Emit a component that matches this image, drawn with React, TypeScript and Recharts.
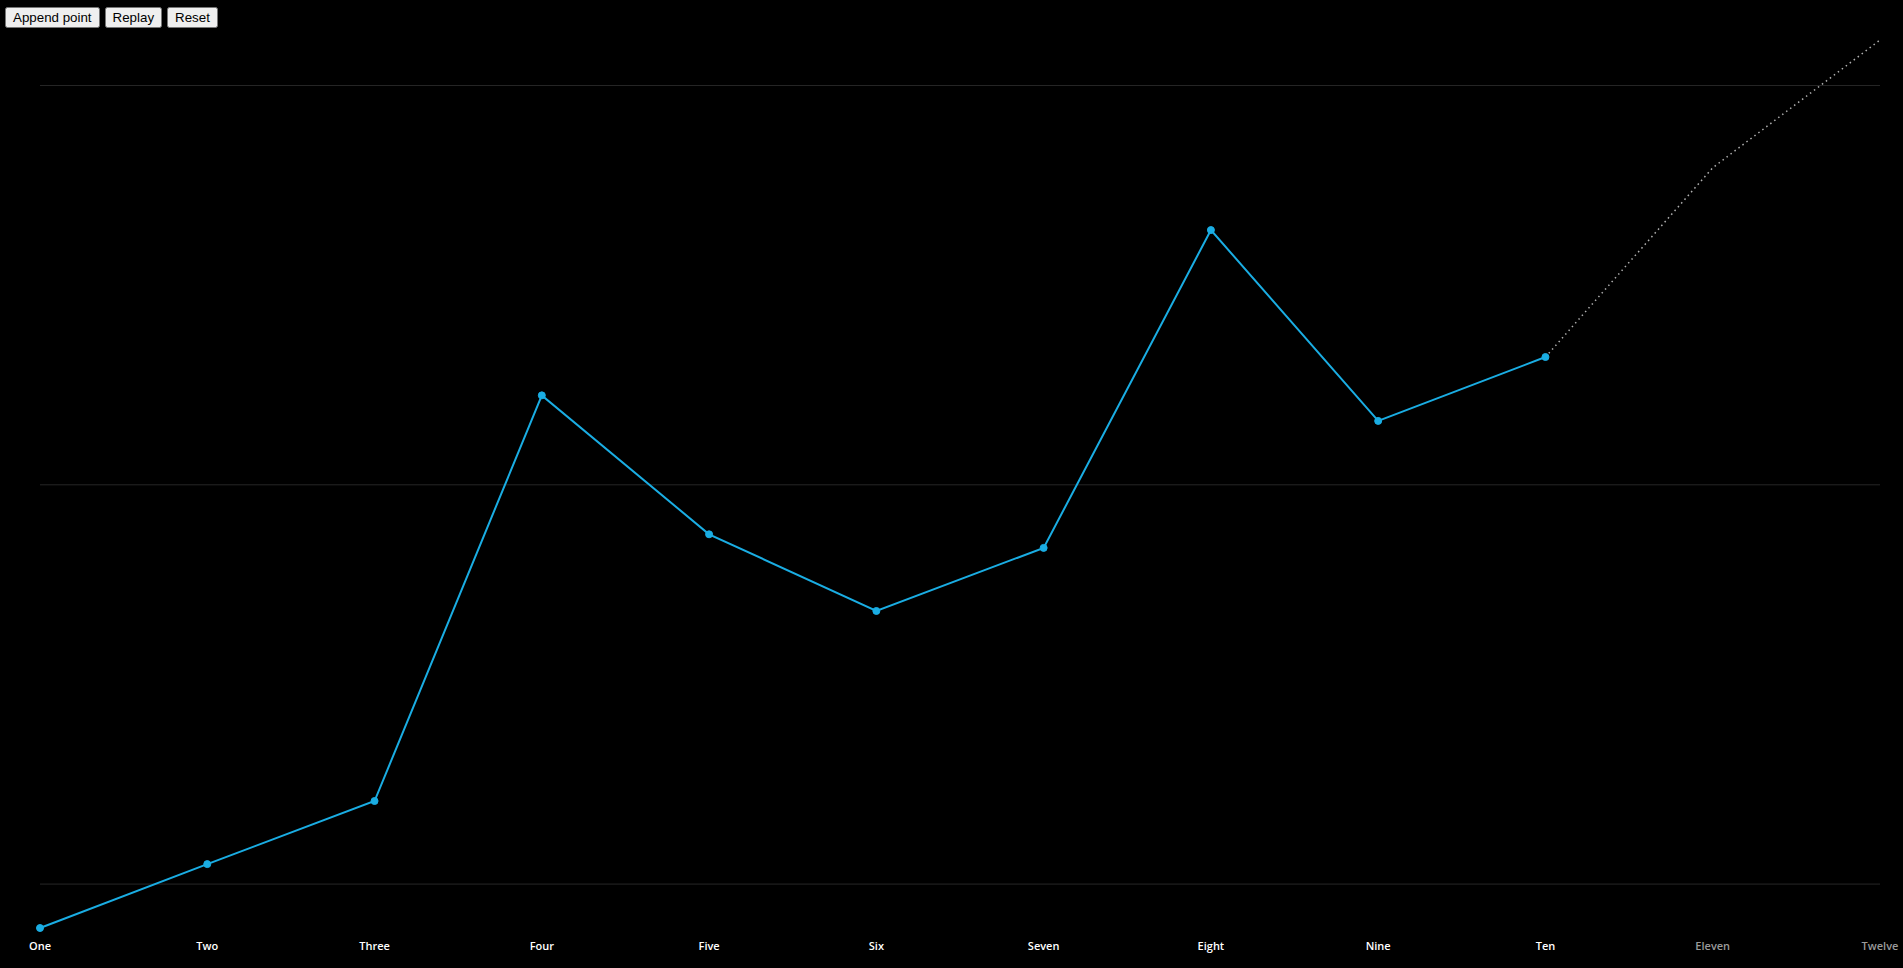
import React from 'react';
import { LineChart, Line, XAxis, YAxis, CartesianGrid } from 'recharts';

const categories = ['One', 'Two', 'Three', 'Four', 'Five', 'Six', 'Seven', 'Eight', 'Nine', 'Ten', 'Eleven', 'Twelve'];
const actualValues: (number | null)[] = [-5.5, 2.5, 10.4, 61.2, 43.8, 34.2, 42.1, 81.9, 58.0, 66.0, null, null];
const forecastValues: (number | null)[] = [null, null, null, null, null, null, null, null, null, 66.0, 89.7, 105.7];
const gridValues = [0, 50, 100];

const data = categories.map((name, i) => ({
  name,
  actual: actualValues[i],
  forecast: forecastValues[i],
}));

const allValues = [...actualValues, ...forecastValues].filter((v): v is number => v !== null);
const yMin = Math.min(...allValues);
const yMax = Math.max(...allValues);

const BLUE = '#1aade3';

const Tick = (props: any) => {
  const { x, y, payload, index } = props;
  const projected = actualValues[index] === null;
  return (
    <text
      x={x}
      y={y + 22}
      textAnchor="middle"
      fill={projected ? '#9a9a9a' : '#ffffff'}
      fontFamily="'Open Sans', sans-serif"
      fontSize={11}
      fontWeight={600}
    >
      {payload.value}
    </text>
  );
};

const gridGenerator = (props: any) => {
  const scale = props?.yAxis?.scale;
  const apply = (v: number): number | null => {
    if (typeof scale === 'function') return scale(v);
    if (scale && typeof scale.map === 'function') return scale.map(v);
    if (scale && typeof scale.scale === 'function') return scale.scale(v);
    return null;
  };
  const out = gridValues.map(apply).filter((v): v is number => typeof v === 'number' && !isNaN(v));
  return out;
};

export default function App() {
  return (
    <div style={{ position: 'absolute', left: 0, top: 0, width: 1903, height: 968, background: '#000', overflow: 'hidden' }}>
      <div style={{ position: 'absolute', left: 0, top: 0 }}>
        <LineChart width={1903} height={968} data={data} margin={{ top: 40, right: 23, bottom: 0, left: 40 }}>
          <CartesianGrid
            vertical={false}
            stroke="#262626"
            strokeWidth={1}
            horizontalCoordinatesGenerator={gridGenerator}
          />
          <YAxis hide type="number" domain={[yMin, yMax]} ticks={gridValues} />
          <XAxis
            dataKey="name"
            height={40}
            axisLine={false}
            tickLine={false}
            tickSize={0}
            tickMargin={0}
            interval={0}
            tick={<Tick />}
          />
          <Line
            type="linear"
            dataKey="actual"
            stroke={BLUE}
            strokeWidth={2}
            dot={{ r: 3.5, fill: BLUE, stroke: BLUE, strokeWidth: 1 }}
            activeDot={false}
            connectNulls={false}
            isAnimationActive={false}
          />
          <Line
            type="linear"
            dataKey="forecast"
            stroke="#b0b0b0"
            strokeWidth={1.5}
            strokeDasharray="1.5 3.5"
            dot={false}
            activeDot={false}
            isAnimationActive={false}
          />
        </LineChart>
      </div>
      <div style={{ position: 'absolute', left: 5, top: 7, display: 'flex', gap: 5 }}>
        <button>Append point</button>
        <button>Replay</button>
        <button>Reset</button>
      </div>
    </div>
  );
}
